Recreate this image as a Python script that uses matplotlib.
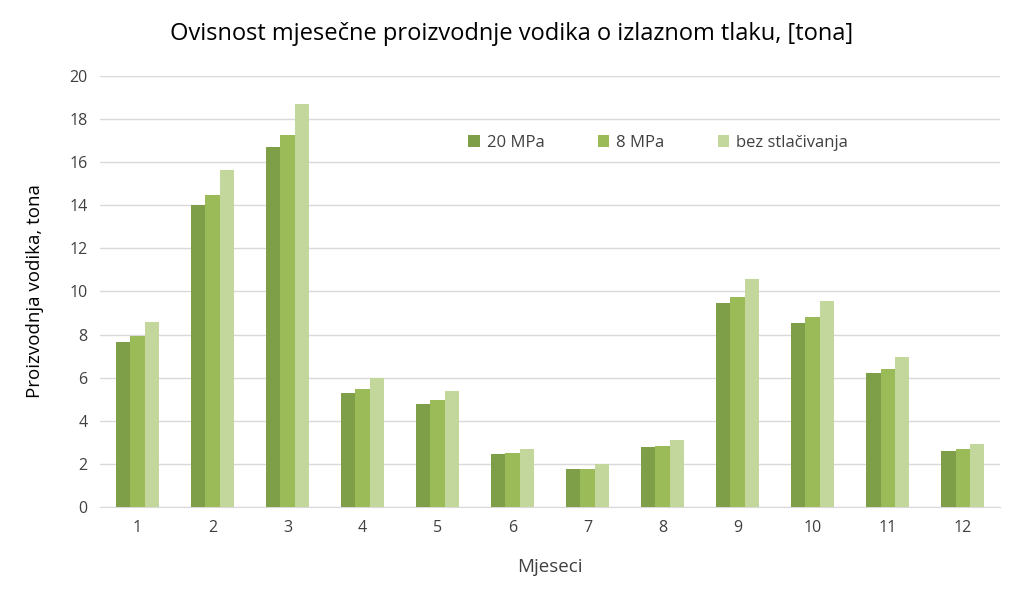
import matplotlib.pyplot as plt
import numpy as np

# mjeseci i proizvodnja vodika [tona]
months = ['1', '2', '3', '4', '5', '6', '7', '8', '9', '10', '11', '12']
p20 = [7.65, 14.0, 16.7, 5.3, 4.8, 2.45, 1.75, 2.8, 9.45, 8.55, 6.2, 2.6]
p8 = [7.93, 14.45, 17.25, 5.48, 4.95, 2.5, 1.78, 2.85, 9.75, 8.8, 6.4, 2.7]
bez = [8.58, 15.65, 18.7, 6.0, 5.4, 2.72, 2.0, 3.1, 10.6, 9.55, 6.95, 2.95]
series = ['20 MPa', '8 MPa', 'bez stlačivanja']
colors = ['#7f9e48', '#9bbb59', '#c3d69b']

plt.rcParams['font.family'] = ['Open Sans', 'DejaVu Sans']

fig = plt.figure(figsize=(10.24, 6.01), dpi=100)
ax = fig.add_axes([0.0977, 0.156, 0.879, 0.718])

x = np.arange(len(months))
w = 0.19
for i, (vals, lab, c) in enumerate(zip([p20, p8, bez], series, colors)):
    ax.bar(x + (i - 1) * w, vals, w, color=c, label=lab, zorder=3)

ax.set_xlim(-0.5, len(months) - 0.5)
ax.set_ylim(0, 20)
ax.set_yticks(range(0, 21, 2))
ax.set_xticks(x)
ax.set_xticklabels(months)
ax.tick_params(axis='both', length=0, labelsize=11.5, colors='#404040', pad=9)
ax.grid(axis='y', color='#d9d9d9', linewidth=1, zorder=0)
for s in ['top', 'left', 'right']:
    ax.spines[s].set_visible(False)
ax.spines['bottom'].set_color('#d9d9d9')

ax.set_xlabel('Mjeseci', fontsize=13.5, color='#404040', labelpad=16)
ax.set_ylabel('Proizvodnja vodika, tona', fontsize=13.5, color='#000000', labelpad=18)
fig.text(0.5, 0.943, 'Ovisnost mjesečne proizvodnje vodika o izlaznom tlaku, [tona]',
         ha='center', va='center', fontsize=17, color='#000000')

ax.legend(loc='center', bbox_to_anchor=(0.62, 0.845), ncol=3, frameon=False,
          fontsize=12, handlelength=0.7, handleheight=0.7, columnspacing=3.2,
          handletextpad=0.4, labelcolor='#404040')

fig.savefig('out.png', dpi=100)
